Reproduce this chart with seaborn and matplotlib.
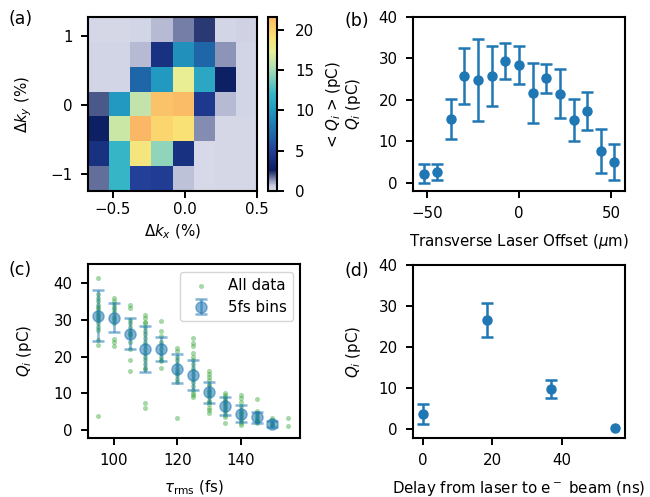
import numpy as np
import pandas as pd
import matplotlib
matplotlib.use("Agg")
import matplotlib.pyplot as plt
import seaborn as sns
from matplotlib.colors import LinearSegmentedColormap

# ---------------- data ----------------
# (a) charge map, bin edges in % and mean charge
kx_edges = [-0.674, -0.527, -0.380, -0.234, -0.087, 0.060, 0.206, 0.353, 0.500]
ky_edges = [-1.25, -0.89, -0.53, -0.17, 0.19, 0.55, 0.91, 1.27]
charge_rows_top_to_bottom = [
    [0.3, 0.3, 0.4, 0.9, 1.6, 2.3, 0.4, 0.5],
    [0.4, 0.4, 0.9, 4.0, 9.5, 7.0, 1.3, 0.4],
    [0.4, 0.4, 7.0, 10.0, 17.5, 11.0, 2.7, 0.4],
    [2.0, 10.0, 16.0, 21.0, 21.3, 4.5, 0.9, 0.4],
    [2.7, 16.3, 21.6, 19.8, 19.0, 1.4, 0.3, 0.3],
    [4.0, 12.0, 18.5, 14.5, 4.0, 0.2, 0.3, 0.3],
    [1.7, 12.0, 5.0, 4.8, 0.8, 0.2, 0.3, 0.3],
]

# (b) transverse laser offset scan
offset_um = [-51.8, -44.4, -37.0, -29.6, -22.2, -14.8, -7.4, 0.0,
             7.4, 14.8, 22.2, 29.6, 37.0, 44.4, 51.8]
offset_q = [2.2, 2.6, 15.3, 25.8, 24.8, 25.7, 29.4, 28.4,
            21.7, 25.2, 21.5, 15.2, 17.3, 7.6, 5.0]
offset_err = [2.2, 2.0, 4.8, 6.7, 10.0, 7.3, 4.4, 4.5,
              7.3, 3.5, 5.9, 5.1, 4.6, 5.3, 4.3]

# (c) pulse length scan: all shots
tau_all = {
    95: [41.3, 37.0, 36.0, 35.0, 34.0, 33.5, 33.0, 32.0, 31.5, 31.0, 30.5,
         30.0, 29.0, 28.0, 27.3, 24.5, 23.2, 3.7],
    100: [35.9, 35.0, 34.2, 33.5, 33.0, 32.0, 31.0, 30.5, 30.0, 29.0, 24.7,
          24.0, 22.8],
    105: [34.1, 33.2, 30.0, 29.0, 28.0, 27.0, 26.5, 26.0, 25.5, 24.0, 22.0,
          19.1, 16.0],
    110: [31.4, 30.5, 29.5, 29.0, 28.0, 27.0, 26.0, 25.0, 24.0, 23.0, 22.0,
          21.0, 20.0, 19.0, 18.0, 17.0, 16.5, 7.2, 6.0],
    115: [29.8, 27.0, 25.5, 24.0, 23.0, 22.0, 21.0, 20.0, 19.0, 18.7, 16.9],
    120: [22.3, 21.5, 20.0, 19.0, 18.0, 17.0, 16.0, 15.5, 15.0, 14.0, 13.0,
          3.3],
    125: [25.0, 23.7, 22.8, 21.0, 20.0, 19.0, 18.0, 17.0, 16.0, 15.0, 14.0,
          13.0, 12.0, 11.0, 10.0, 9.5, 9.0],
    130: [16.0, 15.2, 14.5, 13.5, 12.5, 12.0, 11.0, 10.5, 10.0, 9.5, 9.0,
          8.0, 7.5, 7.0, 6.0, 5.5, 4.5],
    135: [10.1, 9.5, 9.0, 8.5, 8.0, 7.5, 7.0, 6.5, 6.0, 5.5, 5.0, 4.0, 3.5,
          2.0],
    140: [9.6, 8.7, 7.6, 6.5, 5.5, 5.0, 4.5, 4.0, 3.5, 3.0, 2.5, 1.9, 1.3],
    145: [8.4, 5.2, 4.5, 4.0, 3.5, 3.0, 2.8, 2.5, 2.2, 2.0],
    150: [3.3, 2.6, 2.0, 1.7, 1.3, 1.0],
    155: [3.3, 1.0],
}
# (c) 5 fs bins
tau_bins = [95, 100, 105, 110, 115, 120, 125, 130, 135, 140, 145, 150]
tau_bin_q = [31.1, 30.6, 26.2, 22.0, 22.0, 16.7, 15.0, 10.2, 6.6, 4.4, 3.5, 1.6]
tau_bin_err = [7.0, 4.0, 4.2, 6.2, 3.3, 4.0, 4.1, 2.9, 2.5, 2.3, 1.5, 0.75]

# (d) delay scan
delay_ns = [0.0, 18.5, 37.0, 55.5]
delay_q = [3.7, 26.6, 9.7, 0.25]
delay_err = [2.4, 4.1, 2.2, np.nan]

# ---------------- style ----------------
fs = 10.8
sns.set_theme(style="ticks", rc={
    "axes.linewidth": 1.5,
    "xtick.major.width": 1.4, "ytick.major.width": 1.4,
    "xtick.major.size": 5, "ytick.major.size": 5,
    "xtick.major.pad": 6, "ytick.major.pad": 6,
    "xtick.direction": "out", "ytick.direction": "out",
    "axes.labelpad": 7.5,
    "font.size": fs, "axes.labelsize": fs,
    "xtick.labelsize": fs, "ytick.labelsize": fs, "legend.fontsize": fs,
    "axes.edgecolor": "black", "xtick.color": "black", "ytick.color": "black",
    "text.color": "black", "axes.labelcolor": "black",
})
plt.rcParams["font.family"] = ["DejaVu Sans"]

W, H = 650, 497
fig = plt.figure(figsize=(W / 100, H / 100), dpi=100)

def box(x0, y0, x1, y1):
    return [x0 / W, 1 - y1 / H, (x1 - x0) / W, (y1 - y0) / H]

ax_a = fig.add_axes(box(88, 17, 257, 191))
cax = fig.add_axes(box(268, 17, 277, 191))
ax_b = fig.add_axes(box(413, 17, 625, 191))
ax_c = fig.add_axes(box(88, 264, 300, 438))
ax_d = fig.add_axes(box(413, 265, 625, 438))

blue = "#1f77b4"

# (a)
cmap = LinearSegmentedColormap.from_list("qmap", [
    (0.00, "#dcdeec"), (0.03, "#c9cce0"), (0.12, "#0c1e60"),
    (0.23, "#223f98"), (0.33, "#1f6aaa"), (0.46, "#2198c0"),
    (0.56, "#36b6c6"), (0.70, "#a8dcb6"), (0.80, "#e6ef98"),
    (0.89, "#fce072"), (1.00, "#fab866")])
charge_map = np.array(charge_rows_top_to_bottom)[::-1]
mesh = ax_a.pcolormesh(kx_edges, ky_edges, charge_map, cmap=cmap,
                       vmin=0, vmax=charge_map.max())
ax_a.set_xlim(kx_edges[0], kx_edges[-1])
ax_a.set_ylim(ky_edges[0], ky_edges[-1])
ax_a.set_xticks([-0.5, 0.0, 0.5])
ax_a.set_yticks([-1, 0, 1])
ax_a.tick_params(axis="x", pad=3)
ax_a.set_xlabel(r"$\Delta k_x$ (%)", labelpad=4)
ax_a.set_ylabel(r"$\Delta k_y$ (%)")
cb = fig.colorbar(mesh, cax=cax)
cb.set_ticks([0, 5, 10, 15, 20])
cb.outline.set_linewidth(1.5)
cax.tick_params(pad=8)
cb.set_label(r"< $Q_i$ > (pC)", labelpad=7)

# (b)
ax_b.errorbar(offset_um, offset_q, yerr=offset_err, fmt="o", color=blue,
              markersize=6.5, elinewidth=1.8, capsize=4, capthick=1.8)
ax_b.set_ylim(-2, 40)
ax_b.set_xlim(-57.5, 57.5)
ax_b.set_yticks([0, 10, 20, 30, 40])
ax_b.set_xticks([-50, 0, 50])
ax_b.set_xlabel(r"Transverse Laser Offset ($\mu$m)")
ax_b.set_ylabel(r"$Q_i$ (pC)")

# (c)
df_all = pd.DataFrame([(t, q) for t, qs in tau_all.items() for q in qs],
                      columns=["tau", "q"])
sns.scatterplot(data=df_all, x="tau", y="q", ax=ax_c, color="#2ca02c",
                s=13, alpha=0.42, linewidth=0, label="All data")
ax_c.errorbar(tau_bins, tau_bin_q, yerr=tau_bin_err, fmt="o", color=blue,
              alpha=0.55, markersize=8, elinewidth=1.8, capsize=4,
              capthick=1.8, label="5fs bins")
ax_c.set_xlim(91.9, 158.7)
ax_c.set_ylim(-2.2, 45.2)
ax_c.set_xticks([100, 120, 140])
ax_c.set_yticks([0, 10, 20, 30, 40])
ax_c.set_xlabel(r"$\tau_{\mathrm{rms}}$ (fs)")
ax_c.set_ylabel(r"$Q_i$ (pC)")
ax_c.legend(loc="upper right")

# (d)
ax_d.errorbar(delay_ns, delay_q, yerr=delay_err, fmt="o", color=blue,
              markersize=6.5, elinewidth=1.8, capsize=4, capthick=1.8)
ax_d.set_ylim(-2.2, 40)
ax_d.set_xlim(-2.9, 58.3)
ax_d.set_xticks([0, 20, 40])
ax_d.set_yticks([0, 10, 20, 30, 40])
ax_d.set_xlabel(r"Delay from laser to e$^-$ beam (ns)")
ax_d.set_ylabel(r"$Q_i$ (pC)")

# y-label alignment per column (right edge of rotated label)
ax_a.yaxis.set_label_coords((34 - 88) / 169, 0.5)
ax_c.yaxis.set_label_coords((34 - 88) / 212, 0.5)
ax_b.yaxis.set_label_coords((363 - 413) / 212, 0.5)
ax_d.yaxis.set_label_coords((363 - 413) / 212, 0.5)

# panel labels
for lab, x, y in [("(a)", 8, 19), ("(b)", 344, 21), ("(c)", 8, 270), ("(d)", 344, 271)]:
    fig.text(x / W, 1 - y / H, lab, fontsize=12.5, va="center", ha="left")

fig.savefig("out.png", dpi=100)
